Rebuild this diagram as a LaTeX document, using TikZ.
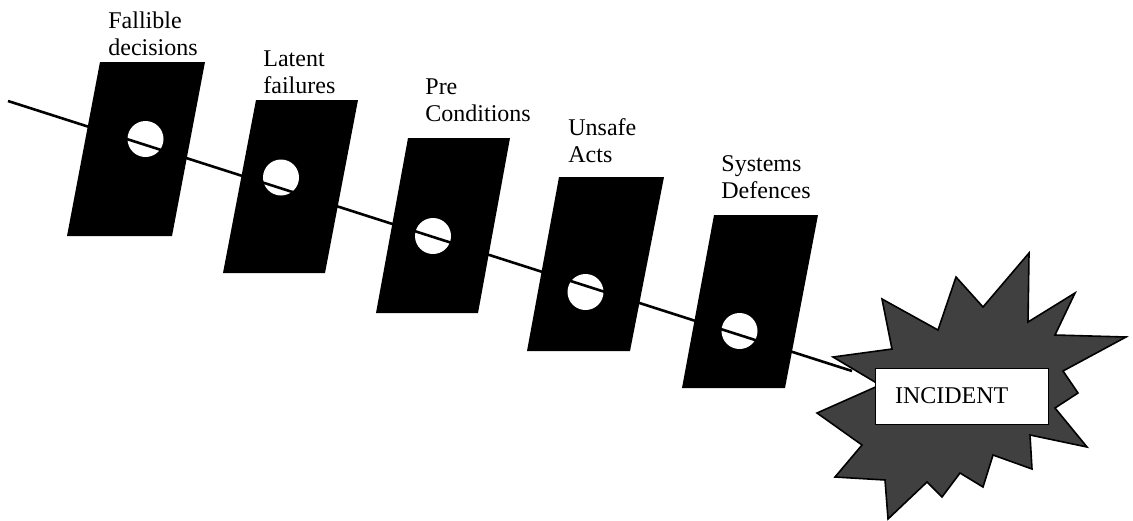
\documentclass[tikz,border=0pt]{standalone}
\usepackage{fontspec}
\setmainfont{Liberation Serif}
\colorlet{burst}{black!75}
\tikzset{
  slice/.style = {fill=black},
  hole/.style = {fill=white},
  layer/.style = {anchor=base west, align=left, inner sep=0pt,
    font=\fontsize{12}{13.5}\selectfont},
  incidentbox/.style = {draw=black, fill=white, line width=0.4pt,
    minimum height=28pt, text width=66.5pt, inner xsep=10pt, align=left,
    font=\fontsize{12}{14}\selectfont}
}

\begin{document}
\begin{tikzpicture}[x=0.5pt,y=-0.5pt]
  \useasboundingbox (0,0) rectangle (1133,520);
  % slices
  \fill[slice] (100,62) -- (205,62) -- (172,236) -- (67,236) -- cycle;
  \fill[slice] (256,100) -- (358,100) -- (325,273) -- (223,273) -- cycle;
  \fill[slice] (408,138) -- (510,138) -- (478,313) -- (376,313) -- cycle;
  \fill[slice] (559,177) -- (664,177) -- (630,351) -- (527,351) -- cycle;
  \fill[slice] (714,215) -- (818,215) -- (785,388) -- (682,388) -- cycle;
  % holes
  \fill[hole] (145.5,139) circle (18);
  \fill[hole] (281,177.5) circle (18);
  \fill[hole] (433,236) circle (18);
  \fill[hole] (585.5,292) circle (18);
  \fill[hole] (739.5,331) circle (18);
  % labels
  \node[layer] (fallible) at (108,55) {Fallible\\decisions};
  \node[layer] (latent) at (263,93) {Latent\\failures};
  \node[layer] (pre) at (425,121) {Pre\\Conditions};
  \node[layer] (unsafe) at (568,162) {Unsafe\\Acts};
  \node[layer] (systems) at (721,198) {Systems\\Defences};
  % trajectory
  \coordinate (lineStart) at (8,101);
  \coordinate (lineEnd) at (852,371);
  \draw[line width=1.3pt] (lineStart) -- (lineEnd);
  % incident
  \filldraw[fill=burst, draw=black, line width=0.8pt, line join=miter]
    (833,357) -- (892,349) -- (882,299) -- (938,330) -- (956,277)
    -- (983,307) -- (1029,253) -- (1028,322) -- (1075,293) -- (1055,335)
    -- (1126,337) -- (1063,371) -- (1078,393) -- (1055,408) -- (1087,447)
    -- (1030,435) -- (1032,469) -- (993,455) -- (983,487) -- (960,473)
    -- (942,497) -- (927,482) -- (888,519) -- (885,480) -- (835,477)
    -- (862,445) -- (817,413) -- (880,385) -- cycle;
  \node[incidentbox] (incident) at (961.5,396) {INCIDENT};
\end{tikzpicture}
\end{document}
